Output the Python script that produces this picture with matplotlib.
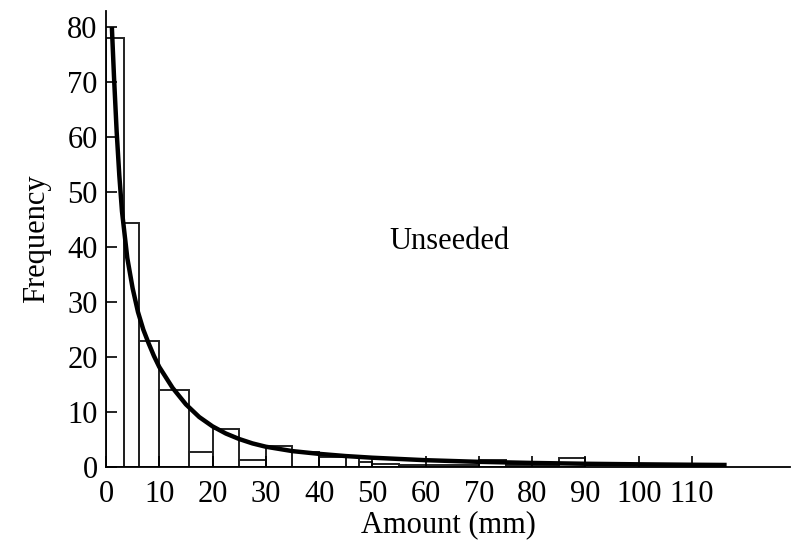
import matplotlib
matplotlib.use("Agg")
import matplotlib.pyplot as plt

# Histogram bins (edges) and frequencies
bin_edges = [0, 3.3, 6.2, 10, 15.5, 20, 25, 30, 35, 40, 45, 47.5, 50, 55, 70, 75, 85, 90]
bin_heights = [78, 44.4, 23, 14, 2.7, 7, 1.3, 3.8, 2.7, 1.8, 2.0, 1.0, 0.6, 0.4, 1.3, 0.3, 1.6]

# Fitted curve, points
curve_x = [1.1, 1.5, 2.0, 2.5, 3.0, 4.0, 5.0, 6.0, 7.0, 8.0, 9.0, 10, 12.5, 15, 17.5, 20,
           22.5, 25, 27.5, 30, 35, 40, 45, 50, 60, 70, 80, 90, 100, 110, 116.5]
curve_y = [80, 71, 61, 53, 46.5, 38, 32.5, 28.2, 25, 22.5, 20.2, 18.2, 14.4, 11.4, 9.1, 7.4,
           6.1, 5.1, 4.3, 3.7, 2.9, 2.4, 2.0, 1.7, 1.25, 0.95, 0.75, 0.6, 0.5, 0.42, 0.38]

x_ticks = [0, 10, 20, 30, 40, 50, 60, 70, 80, 90, 100, 110]
y_ticks = [0, 10, 20, 30, 40, 50, 60, 70, 80]

plt.rcParams['font.family'] = ['Liberation Serif', 'DejaVu Serif']

fig = plt.figure(figsize=(7.94, 5.45), dpi=100)
ax = fig.add_axes([0.1335, 0.143, 0.8615, 0.8376])

lefts = bin_edges[:-1]
widths = [bin_edges[i + 1] - bin_edges[i] for i in range(len(bin_heights))]
ax.bar(lefts, bin_heights, width=widths, align='edge', fill=False,
       edgecolor='#222222', linewidth=1.4)

ax.plot(curve_x, curve_y, color='black', linewidth=3.2, solid_capstyle='butt',
        solid_joinstyle='round')

ax.set_xlim(0, 128.4)
ax.set_ylim(0, 83)
ax.set_xticks(x_ticks)
ax.set_yticks(y_ticks)
ax.tick_params(direction='in', length=8, width=1.2, labelsize=22, colors='black')
ax.tick_params(axis='y', pad=6)
ax.tick_params(axis='x', pad=9)
for s in ['top', 'right']:
    ax.spines[s].set_visible(False)
for s in ['left', 'bottom']:
    ax.spines[s].set_linewidth(1.3)

ax.set_xlabel('Amount (mm)', fontsize=22, labelpad=1)
ax.set_ylabel('Frequency', fontsize=22, labelpad=12)
ax.text(64.5, 41, 'Unseeded', fontsize=22, ha='center', va='center')

fig.savefig('out.png', dpi=100)
